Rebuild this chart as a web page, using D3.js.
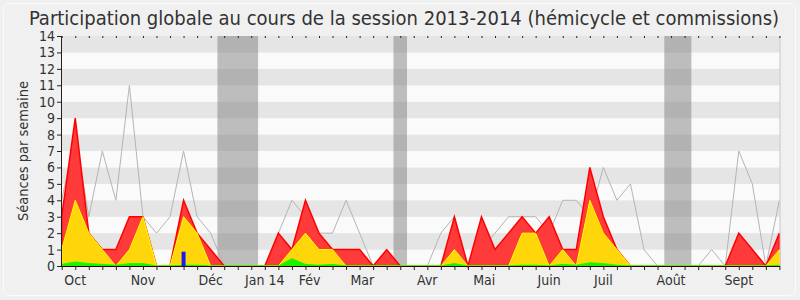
<!DOCTYPE html>
<html>
<head>
<meta charset="utf-8">
<script src="https://cdn.jsdelivr.net/npm/d3@7"></script>
<style>
  body { margin: 0; background: #f0f0f0; }
  svg { display: block; font-family: "DejaVu Sans Condensed", "DejaVu Sans", sans-serif; }
</style>
</head>
<body>
<div id="chart"></div>
<script>
// weekly values, session 2013-2014 (54 weeks)
const total = [3, 9, 2, 1, 1, 3, 3, 0, 0, 4, 2, 1, 0, 0, 0, 0, 2, 1, 4, 2, 1, 1, 1, 0, 1, 0, 0,
  0, 0, 3, 0, 3, 1, 2, 3, 2, 3, 1, 1, 6, 3, 1, 0, 0, 0, 0, 0, 0, 0, 0, 2, 1, 0, 2];
const commission = [1, 4, 2, 1, 0, 1, 3, 0, 0, 3, 2, 0, 0, 0, 0, 0, 0, 1, 2, 1, 1, 0, 0, 0, 0, 0, 0,
  0, 0, 1, 0, 0, 0, 0, 2, 2, 0, 1, 0, 4, 2, 1, 0, 0, 0, 0, 0, 0, 0, 0, 0, 0, 0, 1];
const hemicycle = [0.1, 0.25, 0.15, 0.1, 0.05, 0.15, 0.15, 0, 0, 0.05, 0.05, 0, 0, 0, 0, 0, 0, 0.45, 0.1, 0.05, 0.1, 0, 0, 0, 0, 0, 0,
  0, 0, 0.15, 0, 0, 0, 0, 0.05, 0.05, 0, 0.1, 0.05, 0.2, 0.15, 0.05, 0, 0, 0, 0, 0, 0, 0, 0, 0, 0, 0, 0.05];
const questions = [0, 0, 0, 0, 0, 0, 0, 0, 0, 0.87, 0, 0, 0, 0, 0, 0, 0, 0, 0, 0, 0, 0, 0, 0, 0, 0, 0,
  0, 0, 0, 0, 0, 0, 0, 0, 0, 0, 0, 0, 0, 0, 0, 0, 0, 0, 0, 0, 0, 0, 0, 0, 0, 0, 0];
const median = [4, 8, 3, 7, 4, 11, 3, 2, 3, 7, 3, 2, 0, 0, 0, 0, 2, 4, 3, 2, 2, 4, 2, 0, 0, 0, 0,
  0, 2, 3, 0, 1, 2, 3, 3, 3, 2, 4, 4, 3, 6, 4, 5, 1, 0, 0, 0, 0, 1, 0, 7, 5, 0, 4];
const vacations = [[12, 14], [25, 25], [45, 46]];
const months = ["Oct", "Nov", "Déc", "Jan 14", "Fév", "Mar", "Avr", "Mai", "Juin", "Juil", "Août", "Sept"];
const monthWeeks = [1, 6, 11, 15, 18.3, 22.2, 27, 31.2, 36, 40, 45, 50];

const width = 800, height = 300;
const margin = {top: 36, right: 20.6, bottom: 34, left: 61.7};

const svg = d3.select("#chart").append("svg")
  .attr("width", width)
  .attr("height", height);

svg.append("rect")
  .attr("x", 3.5).attr("y", 3.5)
  .attr("width", width - 8).attr("height", height - 8)
  .attr("rx", 6)
  .attr("fill", "#f0f0f0")
  .attr("stroke", "#fbfbfb");

const x = d3.scaleLinear().domain([0, total.length - 1]).range([margin.left, width - margin.right]);
const y = d3.scaleLinear().domain([0, 14]).range([height - margin.bottom, margin.top]);

const x0 = x.range()[0] - 0.7, x1 = x.range()[1] + 0.6;

// horizontal stripes
svg.append("g").selectAll("rect")
  .data(d3.range(14))
  .join("rect")
  .attr("x", x0)
  .attr("width", x1 - x0)
  .attr("y", d => y(d + 1))
  .attr("height", d => y(d) - y(d + 1))
  .attr("fill", d => d % 2 ? "#e5e5e5" : "#fafafa");

// vacation bands
svg.append("g").selectAll("rect")
  .data(vacations)
  .join("rect")
  .attr("x", d => x(d[0] - 0.5))
  .attr("width", d => x(d[1] + 0.5) - x(d[0] - 0.5))
  .attr("y", y(14))
  .attr("height", y(0) - y(14))
  .attr("fill", "rgba(128,128,128,0.5)");

const idx = d3.range(total.length);

// median line
svg.append("path")
  .datum(idx)
  .attr("fill", "none")
  .attr("stroke", "#b4b4b4")
  .attr("stroke-width", 1)
  .attr("d", d3.line().x(i => x(i)).y(i => y(median[i])));

function area(vals, fill, stroke, sw) {
  svg.append("path")
    .datum(idx)
    .attr("fill", fill)
    .attr("stroke", stroke)
    .attr("stroke-width", sw)
    .attr("stroke-linejoin", "miter")
    .attr("d", d3.area().x(i => x(i)).y0(y(0)).y1(i => y(vals[i])));
}

area(total, "#ff3a3a", "#ff0000", 1.5);
area(commission, "#ffd60a", "#ffff00", 1);
area(hemicycle, "#22ee00", "#00ff00", 0.8);

// questions bars
svg.append("g").selectAll("rect")
  .data(idx.filter(i => questions[i] > 0))
  .join("rect")
  .attr("x", i => x(i) - 2)
  .attr("width", 4)
  .attr("y", i => y(questions[i]))
  .attr("height", i => y(0) - y(questions[i]))
  .attr("fill", "#1a1aee");

// right border line
svg.append("line")
  .attr("x1", x1).attr("x2", x1)
  .attr("y1", y(14)).attr("y2", y(0))
  .attr("stroke", "#c8c8c8");

// x axis
const xAxis = svg.append("g")
  .attr("transform", `translate(0,${y(0)})`)
  .call(d3.axisBottom(x).tickValues(idx).tickSize(4).tickFormat(""));
xAxis.select(".domain").attr("stroke", "#330000").attr("d", `M${x0},0.5H${x1}`);
xAxis.selectAll(".tick line").attr("stroke", "#222");

// top ticks
svg.append("g")
  .attr("transform", `translate(0,${y(14)})`)
  .call(d3.axisTop(x).tickValues(idx).tickSize(-2).tickFormat(""))
  .call(g => g.select(".domain").remove())
  .selectAll(".tick line").attr("stroke", "#222");

svg.append("g").selectAll("text")
  .data(months)
  .join("text")
  .attr("x", (d, i) => x(monthWeeks[i]))
  .attr("y", y(0) + 19)
  .attr("text-anchor", "middle")
  .attr("font-size", 14)
  .attr("fill", "#333")
  .text(d => d);

// y axis
const yAxis = svg.append("g")
  .attr("transform", `translate(${x0},0)`)
  .call(d3.axisLeft(y).ticks(14).tickSize(4).tickPadding(2));
yAxis.select(".domain").attr("stroke", "#222").attr("d", `M0.5,${y(14)}V${y(0)}`);
yAxis.selectAll(".tick line").attr("stroke", "#222");
yAxis.selectAll("text")
  .attr("font-family", "DejaVu Sans Condensed, DejaVu Sans, sans-serif")
  .attr("font-size", 14)
  .attr("fill", "#333");

svg.append("text")
  .attr("transform", `translate(28,${(y(0) + y(14)) / 2}) rotate(-90)`)
  .attr("text-anchor", "middle")
  .attr("font-size", 14.5)
  .attr("fill", "#333")
  .text("Séances par semaine");

svg.append("text")
  .attr("x", 404)
  .attr("y", 25)
  .attr("text-anchor", "middle")
  .attr("font-size", 20)
  .attr("fill", "#333")
  .text("Participation globale au cours de la session 2013-2014 (hémicycle et commissions)");
</script>
</body>
</html>
